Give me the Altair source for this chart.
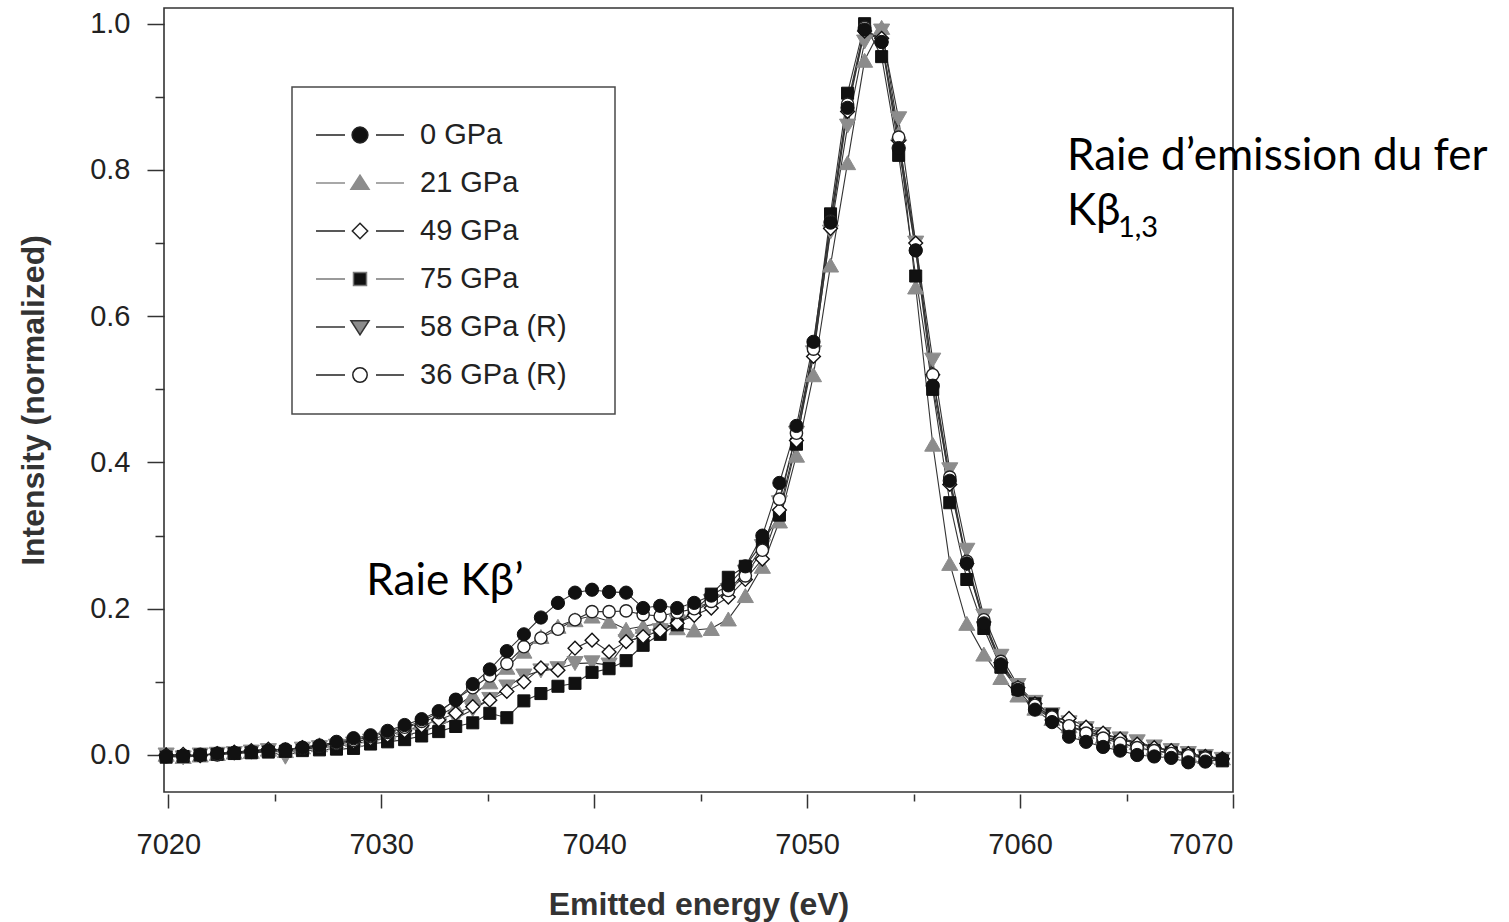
import altair as alt
import pandas as pd

# ---------------- data ----------------
energy = [
    7019.9, 7020.7, 7021.5, 7022.3, 7023.1, 7023.9, 7024.7, 7025.5, 7026.3, 7027.1,
    7027.9, 7028.7, 7029.5, 7030.3, 7031.1, 7031.9, 7032.7, 7033.5, 7034.3, 7035.1,
    7035.9, 7036.7, 7037.5, 7038.3, 7039.1, 7039.9, 7040.7, 7041.5, 7042.3, 7043.1,
    7043.9, 7044.7, 7045.5, 7046.3, 7047.1, 7047.9, 7048.7, 7049.5, 7050.3, 7051.1,
    7051.9, 7052.7, 7053.5, 7054.3, 7055.1, 7055.9, 7056.7, 7057.5, 7058.3, 7059.1,
    7059.9, 7060.7, 7061.5, 7062.3, 7063.1, 7063.9, 7064.7, 7065.5, 7066.3, 7067.1,
    7067.9, 7068.7, 7069.5,
]

i_0gpa = [
    -0.002, -0.001, 0.000, 0.002, 0.003, 0.004, 0.006, 0.007, 0.010, 0.013,
    0.018, 0.023, 0.027, 0.033, 0.041, 0.049, 0.060, 0.075, 0.097, 0.117,
    0.142, 0.165, 0.188, 0.208, 0.222, 0.226, 0.223, 0.222, 0.201, 0.204,
    0.201, 0.208, 0.218, 0.232, 0.258, 0.300, 0.372, 0.450, 0.565, 0.728,
    0.885, 0.992, 0.975, 0.830, 0.690, 0.505, 0.375, 0.262, 0.180, 0.124,
    0.089, 0.062, 0.045, 0.025, 0.018, 0.011, 0.006, 0.000, -0.002, -0.004,
    -0.010, -0.009, -0.006,
]
i_21gpa = [
    0.001, -0.002, 0.000, 0.002, 0.004, 0.005, 0.008, 0.006, 0.011, 0.014,
    0.017, 0.021, 0.026, 0.031, 0.037, 0.044, 0.054, 0.066, 0.082, 0.100,
    0.120, 0.142, 0.162, 0.176, 0.185, 0.190, 0.183, 0.172, 0.176, 0.180,
    0.174, 0.171, 0.173, 0.186, 0.218, 0.258, 0.320, 0.410, 0.520, 0.670,
    0.810, 0.950, 0.995, 0.850, 0.640, 0.425, 0.262, 0.180, 0.138, 0.106,
    0.082, 0.064, 0.050, 0.040, 0.032, 0.025, 0.020, 0.017, 0.010, 0.006,
    0.002, -0.002, -0.004,
]
i_49gpa = [
    0.000, 0.001, -0.001, 0.002, 0.004, 0.006, 0.008, 0.007, 0.010, 0.012,
    0.015, 0.018, 0.022, 0.027, 0.033, 0.040, 0.048, 0.057, 0.066, 0.075,
    0.087, 0.100, 0.119, 0.116, 0.146, 0.157, 0.141, 0.155, 0.162, 0.170,
    0.180, 0.191, 0.201, 0.216, 0.240, 0.268, 0.335, 0.430, 0.545, 0.720,
    0.880, 0.990, 0.980, 0.840, 0.700, 0.520, 0.370, 0.262, 0.182, 0.126,
    0.092, 0.070, 0.048, 0.050, 0.038, 0.030, 0.022, 0.015, 0.010, 0.006,
    0.002, -0.002, -0.005,
]
i_75gpa = [
    -0.003, -0.002, 0.000, 0.001, 0.002, 0.003, 0.004, 0.005, 0.006, 0.007,
    0.008, 0.009, 0.015, 0.018, 0.021, 0.026, 0.032, 0.039, 0.044, 0.057,
    0.051, 0.074, 0.084, 0.094, 0.098, 0.113, 0.118, 0.129, 0.150, 0.165,
    0.178, 0.197, 0.220, 0.243, 0.258, 0.290, 0.328, 0.425, 0.560, 0.740,
    0.905, 1.000, 0.955, 0.820, 0.655, 0.500, 0.345, 0.240, 0.173, 0.120,
    0.090, 0.070, 0.055, 0.037, 0.034, 0.025, 0.018, 0.009, 0.006, 0.003,
    0.000, -0.003, -0.008,
]
i_58gpa_r = [
    0.000, -0.004, 0.000, 0.001, 0.002, 0.004, 0.006, -0.003, 0.008, 0.010,
    0.012, 0.015, 0.019, 0.023, 0.027, 0.032, 0.040, 0.050, 0.062, 0.076,
    0.093, 0.108, 0.115, 0.118, 0.125, 0.126, 0.123, 0.155, 0.162, 0.170,
    0.182, 0.196, 0.210, 0.225, 0.250, 0.285, 0.345, 0.440, 0.550, 0.715,
    0.860, 0.975, 0.990, 0.870, 0.700, 0.540, 0.390, 0.280, 0.190, 0.135,
    0.095, 0.072, 0.055, 0.044, 0.036, 0.028, 0.022, 0.018, 0.011, 0.006,
    0.002, -0.002, -0.006,
]
i_36gpa_r = [
    -0.001, -0.002, 0.001, 0.000, 0.003, 0.005, 0.006, 0.008, 0.009, 0.012,
    0.016, 0.020, 0.025, 0.031, 0.038, 0.046, 0.058, 0.076, 0.092, 0.108,
    0.125, 0.148, 0.160, 0.172, 0.185, 0.196, 0.196, 0.197, 0.192, 0.190,
    0.195, 0.200, 0.210, 0.225, 0.245, 0.280, 0.350, 0.440, 0.555, 0.730,
    0.890, 0.995, 0.975, 0.845, 0.690, 0.520, 0.380, 0.265, 0.185, 0.128,
    0.092, 0.068, 0.052, 0.040, 0.030, 0.023, 0.016, 0.010, 0.006, 0.002,
    -0.001, -0.004, -0.006,
]

series_names = ["0 GPa", "21 GPa", "49 GPa", "75 GPa", "58 GPa (R)", "36 GPa (R)"]
series_values = [i_0gpa, i_21gpa, i_49gpa, i_75gpa, i_58gpa_r, i_36gpa_r]

x_tick_values = [7020, 7025, 7030, 7035, 7040, 7045, 7050, 7055, 7060, 7065, 7070]
y_tick_values = [0.0, 0.1, 0.2, 0.3, 0.4, 0.5, 0.6, 0.7, 0.8, 0.9, 1.0]

ann_text = ["Raie d\u2019emission du fer", "K\u03b2", "Raie K\u03b2\u2019"]
ann_energy = [7062.2, 7062.2, 7029.3]
ann_intensity = [0.800, 0.725, 0.219]
sub_text = ["1,3"]
sub_energy = [7062.2]
sub_intensity = [0.725]

# ---------------- build tables ----------------
for vals in series_values:
    assert len(vals) == len(energy)

rows = []
for name, vals in zip(series_names, series_values):
    for e, v in zip(energy, vals):
        rows.append({"series": name, "energy": e, "intensity": v})
df = pd.DataFrame(rows)

ann_df = pd.DataFrame({"label": ann_text, "energy": ann_energy, "intensity": ann_intensity})
sub_df = pd.DataFrame({"label": sub_text, "energy": sub_energy, "intensity": sub_intensity})

# ---------------- styles ----------------
TICK_FONT = "Liberation Sans"
marker_style = {
    "0 GPa": dict(shape="circle", fill="#111111", stroke="#111111", size=175, strokeWidth=1),
    "21 GPa": dict(shape="triangle-up", fill="#8c8c8c", stroke="#8c8c8c", size=260, strokeWidth=1),
    "49 GPa": dict(shape="diamond", fill="#ffffff", stroke="#111111", size=190, strokeWidth=1.4),
    "75 GPa": dict(shape="square", fill="#111111", stroke="#111111", size=145, strokeWidth=1),
    "58 GPa (R)": dict(shape="triangle-down", fill="#8c8c8c", stroke="#8c8c8c", size=260, strokeWidth=1),
    "36 GPa (R)": dict(shape="circle", fill="#ffffff", stroke="#222222", size=150, strokeWidth=1.4),
}
draw_order = ["21 GPa", "58 GPa (R)", "75 GPa", "49 GPa", "36 GPa (R)", "0 GPa"]

x_axis = alt.Axis(
    title="Emitted energy (eV)",
    values=x_tick_values,
    labelExpr="datum.value % 10 === 0 ? format(datum.value, 'd') : ''",
    tickSize={"condition": {"test": "datum.value % 10 === 0", "value": 14}, "value": 7},
    offset=2,
    domain=False,
    grid=False,
    tickColor="#333333",
    tickWidth=1.5,
    labelFont=TICK_FONT,
    labelFontSize=29,
    labelColor="#222222",
    labelPadding=22,
    titleFont=TICK_FONT,
    titleFontSize=32,
    titleFontWeight="bold",
    titleColor="#333333",
    titlePadding=30,
)
y_axis = alt.Axis(
    title="Intensity (normalized)",
    values=y_tick_values,
    labelExpr="round(datum.value * 10) % 2 === 0 ? format(datum.value, '.1f') : ''",
    tickSize={"condition": {"test": "round(datum.value * 10) % 2 === 0", "value": 17}, "value": 9},
    domain=False,
    grid=False,
    tickColor="#333333",
    tickWidth=1.5,
    labelFont=TICK_FONT,
    labelFontSize=29,
    labelColor="#222222",
    labelPadding=17,
    titleFont=TICK_FONT,
    titleFontSize=32,
    titleFontWeight="bold",
    titleColor="#333333",
    titlePadding=39,
)

X = alt.X("energy:Q", scale=alt.Scale(domain=[7019.8, 7070.0], nice=False, zero=False), axis=x_axis)
Y = alt.Y("intensity:Q", scale=alt.Scale(domain=[-0.0506, 1.0215], nice=False, zero=False), axis=y_axis)

base = alt.Chart(df)

lines = base.mark_line(color="#333333", strokeWidth=1.1).encode(
    x=X, y=Y, detail="series:N", order="energy:Q"
)

point_layers = []
for name in draw_order:
    st = marker_style[name]
    point_layers.append(
        base.transform_filter(alt.datum.series == name)
        .mark_point(filled=True, opacity=1, **st)
        .encode(x=X, y=Y)
    )

# ---------------- legend (built-in legend with line-marker-line symbols) ----------------
seg = "M-1.892,0H-0.645M0.688,0H1.892M9.8,0"
legend_paths = [
    "M0.34,0A0.34,0.34,0,1,1,-0.34,0A0.34,0.34,0,1,1,0.34,0Z" + seg,
    "M0,-0.34L0.39,0.27L-0.39,0.27Z" + seg,
    "M0,-0.33L0.33,0L0,0.33L-0.33,0Z" + seg,
    "M-0.28,-0.28H0.28V0.28H-0.28Z" + seg,
    "M0,0.34L0.39,-0.27L-0.39,-0.27Z" + seg,
    "M0.31,0A0.31,0.31,0,1,1,-0.31,0A0.31,0.31,0,1,1,0.31,0Z" + seg,
]
legend_fills = ["#111111", "#8c8c8c", "#ffffff", "#111111", "#8c8c8c", "#ffffff"]
legend_strokes = ["#222222", "#8c8c8c", "#222222", "#7a7a7a", "#333333", "#222222"]

leg = alt.Legend(
    title=None,
    orient="none",
    legendX=128,
    legendY=79,
    direction="vertical",
    padding=24,
    rowPadding=9,
    symbolSize=2162,
    symbolStrokeWidth=1.5,
    symbolOffset=20,
    labelOffset=36,
    labelFont=TICK_FONT,
    labelFontSize=29,
    labelColor="#222222",
    labelLimit=500,
    strokeColor="#4a4a4a",
    fillColor="#ffffff",
)

legend_layer = (
    base.transform_filter("datum.energy < 0")
    .mark_point(filled=True, opacity=1, size=2162, strokeWidth=1.5)
    .encode(
        x=X,
        y=Y,
        shape=alt.Shape("series:N", scale=alt.Scale(domain=series_names, range=legend_paths), legend=leg),
        fill=alt.Fill("series:N", scale=alt.Scale(domain=series_names, range=legend_fills), legend=leg),
        stroke=alt.Stroke("series:N", scale=alt.Scale(domain=series_names, range=legend_strokes), legend=leg),
    )
)

# ---------------- annotations ----------------
ann = alt.Chart(ann_df).mark_text(
    font="Lato", fontSize=44, color="#000000", align="left", baseline="alphabetic"
).encode(x=X, y=Y, text="label:N")

sub = alt.Chart(sub_df).mark_text(
    font="Lato", fontSize=29, color="#000000", align="left", baseline="alphabetic", dx=51, dy=12
).encode(x=X, y=Y, text="label:N")

chart = (
    alt.layer(lines, *point_layers, legend_layer, ann, sub)
    .properties(
        width=1069,
        height=784,
        autosize=alt.AutoSizeParams(type="none"),
        padding={"left": 164, "top": 8, "right": 276, "bottom": 130},
        background="#ffffff",
    )
    .configure_view(stroke="#333333", strokeWidth=1.6)
    .configure_legend(strokeWidth=1.5)
)

chart.save("out.html", embed_options={"renderer": "svg", "actions": False})
